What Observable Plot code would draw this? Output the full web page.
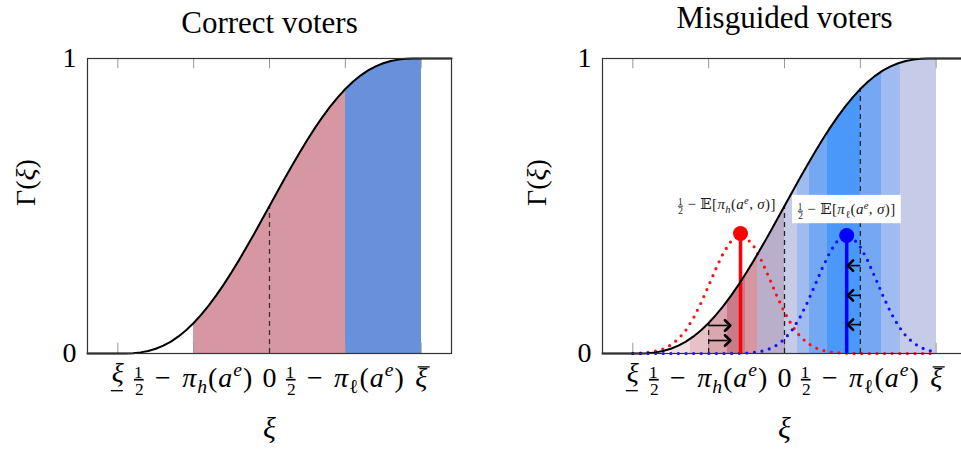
<!DOCTYPE html>
<html><head><meta charset="utf-8">
<script src="https://cdn.jsdelivr.net/npm/d3@7"></script>
<script src="https://cdn.jsdelivr.net/npm/@observablehq/plot@0.6"></script>
<style>
html,body{margin:0;padding:0;background:#fff;overflow:hidden;}
#wrap{position:relative;width:961px;height:453px;overflow:hidden;}
#wrap svg{position:absolute;top:0;}
</style></head><body><div id="wrap"></div>
<script>
// ---- data ----
const xiGrid = [-2.0,-1.9,-1.8,-1.7,-1.6,-1.5,-1.4,-1.3,-1.2,-1.1,-1.0,-0.9,-0.8,-0.7,-0.6,-0.5,-0.4,-0.3,-0.2,-0.1,0,
  0.1,0.2,0.3,0.4,0.5,0.6,0.7,0.8,0.9,1.0,1.1,1.2,1.3,1.4,1.5,1.6,1.7,1.8,1.9,2.0];
const gammaValues = [0,0.0002,0.0012,0.0038,0.0086,0.0161,0.0266,0.0405,0.0579,0.0789,0.1035,0.1316,0.1631,0.1977,0.2352,0.2752,0.3174,0.3615,0.4069,0.4532,0.5,
  0.5468,0.5931,0.6385,0.6826,0.7248,0.7648,0.8023,0.8369,0.8684,0.8965,0.9211,0.9421,0.9595,0.9734,0.9839,0.9914,0.9962,0.9988,0.9998,1];
const redDensity = [0.0007,0.0017,0.0038,0.0079,0.0155,0.0284,0.0489,0.0792,0.1204,0.1718,0.2305,0.2904,0.344,0.3824,0.3995,0.392,0.3614,0.313,0.2548,0.1947,0.1398,
  0.0943,0.0598,0.0356,0.0199,0.0105,0.0052,0.0024,0.001,0.0004,0.0001,0,0,0,0,0,0,0,0,0,0];
const blueDensity = [0,0,0,0,0,0,0,0,0,0,0,0,0,0.0002,0.0007,0.0017,0.0038,0.0079,0.0155,0.0284,0.0489,
  0.0792,0.1204,0.1718,0.2305,0.2904,0.344,0.3824,0.3995,0.392,0.3614,0.313,0.2548,0.1947,0.1398,0.0943,0.0598,0.0356,0.0199,0.0105,0.0052];
const xiDomain = [-2.4, 2.4];

const tickXi = [-2, -1, 0, 1, 2];
const tickLabels = ["\\ul{ξ}", "\\frac12\u2004−\u2004π_{h}(a^{e})", "0", "\\frac12\u2004−\u2004π_{ℓ}(a^{e})", "\\ol{ξ}"];
const yTickValues = [0, 1];
const yTickLabels = ["0", "1"];

const correctBandStart = [-1, 1];
const correctBandEnd = [1, 2];
const correctBandColor = ["#d697a3", "#6990da"];

const misBandStart = [-1.5, -1.24, -1.0, -0.75, -0.51, -0.355, 0, 0.17, 0.33, 0.565, 1.0, 1.275, 1.525];
const misBandEnd   = [-1.24, -1.0, -0.75, -0.51, -0.355, 0, 0.17, 0.33, 0.565, 1.0, 1.275, 1.525, 2.0];
const misBandColor = ["#f3dfe2","#e6c1c7","#daa6af","#c97b89","#d896a1","#b9afcb","#c6cbe7","#a0bbef","#75a8f2","#4a98f9","#75a8f2","#a0bbef","#c6cbe7"];

const redMean = -0.58, redPeak = 0.407;
const blueMean = 0.82, bluePeak = 0.40;
const rightArrowY = [0.095, 0.044];
const leftArrowY = [0.298, 0.197, 0.098];
const correctDashXi = [0];
const misDashXi = [-1, 0, 1];
const labelRed = "\\frac12 − 𝔼[π_{h}(a^{e}, σ)]";
const labelBlue = "\\frac12 − 𝔼[π_{ℓ}(a^{e}, σ)]";

// ---- derived tables ----
const curveRows = [{xi: xiDomain[0], g: 0}, ...xiGrid.map((xi, i) => ({xi, g: gammaValues[i]})), {xi: xiDomain[1], g: 1}];
const gammaAt = x => gammaValues[xiGrid.findIndex(v => Math.abs(v - x) < 1e-9)];
const redRows = xiGrid.map((xi, i) => ({xi, v: redDensity[i]}));
const blueRows = xiGrid.map((xi, i) => ({xi, v: blueDensity[i]}));
const correctBands = correctBandStart.map((s, i) => ({x1: s, x2: correctBandEnd[i], c: correctBandColor[i]}));
const misBands = misBandStart.map((s, i) => ({x1: s, x2: misBandEnd[i], c: misBandColor[i]}));

// ---- tiny math-text renderer ----
const ITALIC = /[A-Za-zα-ω]/;
function parseMarkup(src) {
  const segs = [];
  const add = (str, o = {}) => {
    for (const ch of Array.from(str)) {
      const it = ITALIC.test(ch);
      const key = {off: o.off || 0, scale: o.scale || 1, deco: o.deco || null, italic: it};
      const last = segs[segs.length - 1];
      if (last && !last.frac && last.off === key.off && last.scale === key.scale && last.deco === key.deco && last.italic === it) last.text += ch;
      else segs.push({...key, text: ch});
    }
  };
  const group = j => { let d = 0, k = j; for (; k < src.length; k++) { if (src[k] === "{") d++; else if (src[k] === "}" && --d === 0) break; } return [src.slice(j + 1, k), k + 1]; };
  let i = 0;
  while (i < src.length) {
    if (src.startsWith("\\frac12", i)) { segs.push({frac: true}); i += 7; continue; }
    if (src.startsWith("\\ul{", i) || src.startsWith("\\ol{", i)) {
      const deco = src[i + 1] === "u" ? "under" : "over";
      const [c, n] = group(i + 3); add(c, {deco, off: deco === "under" ? -0.15 : 0}); i = n; continue;
    }
    if (src[i] === "_" || src[i] === "^") {
      const sup = src[i] === "^";
      let c, n;
      if (src[i + 1] === "{") [c, n] = group(i + 1); else { c = src[i + 1]; n = i + 2; }
      add(c, {off: sup ? -0.36 : 0.22, scale: 0.7}); i = n; continue;
    }
    const ch = String.fromCodePoint(src.codePointAt(i));
    add(ch); i += ch.length;
  }
  return segs;
}
function mathify(svg) {
  const NS = "http://www.w3.org/2000/svg";
  svg.querySelectorAll("text").forEach(t => {
    const src = t.textContent;
    if (!/[\\_^ξπσℓΓ𝔼]/u.test(src)) return;
    const fs = parseFloat(getComputedStyle(t).fontSize);
    if (src.includes("\\frac12")) t.style.letterSpacing = fs > 20 ? "1px" : "0.35px";
    while (t.firstChild) t.removeChild(t.firstChild);
    let cur = 0;
    const decos = [];
    const span = (text, size, dy, style = {}) => {
      const s = document.createElementNS(NS, "tspan");
      s.textContent = text;
      s.setAttribute("font-size", size);
      if (dy) s.setAttribute("dy", dy);
      for (const [k, v] of Object.entries(style)) s.style[k] = v;
      t.appendChild(s); return s;
    };
    for (const seg of parseMarkup(src)) {
      if (seg.frac) {
        span("1", 0.62 * fs, -0.31 * fs - cur, {textDecoration: "underline", fontStyle: "normal"});
        cur = -0.31 * fs;
        const b = span("2", 0.62 * fs, 0.3 * fs - cur, {fontStyle: "normal"});
        b.setAttribute("dx", -0.31 * fs);
        cur = 0.3 * fs;
      } else {
        const target = seg.off * fs;
        const s = span(seg.text, seg.scale * fs, target - cur, {fontStyle: seg.italic ? "italic" : "normal"});
        if (seg.deco) decos.push({s, deco: seg.deco});
        cur = target;
      }
    }
    // draw under/over bars as lines that follow the label
    for (const {s, deco} of decos) {
      const p = s.getStartPositionOfChar(0);
      const w = s.getComputedTextLength();
      const line = document.createElementNS(NS, "line");
      const shift = deco === "under" ? -1 : 2.5;
      const y = deco === "under" ? p.y + 0.3 * fs : p.y - 0.7 * fs;
      line.setAttribute("x1", p.x + shift);
      line.setAttribute("x2", p.x + w + shift);
      line.setAttribute("y1", y);
      line.setAttribute("y2", y);
      line.setAttribute("stroke", "black");
      line.setAttribute("stroke-width", 1.3);
      if (t.getAttribute("transform")) line.setAttribute("transform", t.getAttribute("transform"));
      t.parentNode.appendChild(line);
    }
  });
}

// ---- panels ----
function tickMarks() {
  return [
    Plot.ruleX(tickXi, {x: d => d, y1: 1, y2: 0.965, stroke: "#999", strokeWidth: 1}),
    Plot.ruleX(tickXi, {x: d => d, y1: 0, y2: 0.035, stroke: "#999", strokeWidth: 1}),
  ];
}
function axisTexts(title, titleDy, ylabDx) {
  return [
    Plot.frame({stroke: "#333", strokeWidth: 1.2}),
    Plot.text([title], {frameAnchor: "top", lineAnchor: "bottom", dy: titleDy, fontSize: 31, fill: "black"}),
    Plot.text(tickXi, {x: d => d, y: 0, text: (d, i) => tickLabels[i], dy: 33, lineAnchor: "bottom", fontSize: 28, fill: "black"}),
    Plot.text(["ξ"], {frameAnchor: "bottom", lineAnchor: "bottom", dy: 84, fontSize: 30, fill: "black"}),
    Plot.text(yTickValues, {x: xiDomain[0], y: d => d, text: (d, i) => yTickLabels[i], textAnchor: "end", dx: -11, fontSize: 28, fill: "black"}),
    Plot.text(["Γ(ξ)"], {frameAnchor: "left", dx: ylabDx, rotate: -90, fontSize: 28, fill: "black"})
  ];
}
function makePlot(width, marginLeft, marginRight, marks) {
  return Plot.plot({
    width, height: 453, marginLeft, marginRight, marginTop: 58, marginBottom: 100,
    x: {domain: xiDomain, axis: null}, y: {domain: [0, 1], axis: null},
    color: {type: "identity"},
    style: {fontFamily: "'Liberation Serif', 'DejaVu Serif', serif", background: "white", overflow: "visible"},
    marks
  });
}

const left = makePlot(480, 87, 29, [
  Plot.rectY(correctBands, {x1: "x1", x2: "x2", y1: 0, y2: 1, fill: "c", shapeRendering: "crispEdges"}),
  Plot.areaY(curveRows, {x: "xi", y1: "g", y2: 1, fill: "white"}),
  ...tickMarks(),
  Plot.ruleX(correctDashXi, {x: d => d, y1: 0, y2: d => gammaAt(d), stroke: "#333", strokeWidth: 1.3, strokeDasharray: "5,4"}),
  Plot.line(curveRows, {x: "xi", y: "g", stroke: "black", strokeWidth: 2}),
  ...axisTexts("Correct voters", -26, -61)
]);

const right = makePlot(486, 122, 0, [
  Plot.rectY(misBands, {x1: "x1", x2: "x2", y1: 0, y2: 1, fill: "c", shapeRendering: "crispEdges"}),
  Plot.areaY(curveRows, {x: "xi", y1: "g", y2: 1, fill: "white"}),
  ...tickMarks(),
  Plot.ruleX(misDashXi, {x: d => d, y1: 0, y2: d => gammaAt(d), stroke: "#222", strokeWidth: 1.3, strokeDasharray: "5,4"}),
  Plot.line(redRows, {x: "xi", y: "v", stroke: "#ff1010", strokeWidth: 3.2, strokeDasharray: "0,7.6", strokeLinecap: "round"}),
  Plot.line(blueRows, {x: "xi", y: "v", stroke: "#1010ff", strokeWidth: 3.2, strokeDasharray: "0,7.6", strokeLinecap: "round"}),
  Plot.ruleX([redMean], {x: d => d, y1: 0, y2: redPeak, stroke: "#ff0000", strokeWidth: 3.5}),
  Plot.ruleX([blueMean], {x: d => d, y1: 0, y2: bluePeak, stroke: "#0000ff", strokeWidth: 3.5}),
  Plot.dot([redPeak], {x: redMean, y: d => d, r: 7.5, fill: "#ff0000"}),
  Plot.dot([bluePeak], {x: blueMean, y: d => d, r: 7.5, fill: "#0000ff"}),
  Plot.line(curveRows, {x: "xi", y: "g", stroke: "black", strokeWidth: 2}),
  Plot.link(rightArrowY, {x1: -1, x2: redMean - 0.17, y1: d => d, y2: d => d, stroke: "black", strokeWidth: 1.6, markerEnd: "arrow"}),
  Plot.link(leftArrowY, {x1: 1, x2: blueMean + 0.05, y1: d => d, y2: d => d, stroke: "black", strokeWidth: 1.6, markerEnd: "arrow"}),
  Plot.rect([blueMean], {x1: d => d - 0.715, x2: d => d + 0.72, y1: 0.44, y2: 0.536, fill: "white"}),
  Plot.text([labelRed], {x: redMean - 0.18, y: 0.505, fontSize: 15, fill: "#222"}),
  Plot.text([labelBlue], {x: blueMean, y: 0.488, fontSize: 15, fill: "#222"}),
  ...axisTexts("Misguided voters", -31, -65)
]);

const wrap = document.getElementById("wrap");
left.style.left = "0px";
right.style.left = "480px";
wrap.appendChild(left);
wrap.appendChild(right);
mathify(left);
mathify(right);
// enlarge the open arrow heads to the reference's size
right.querySelectorAll("marker").forEach(m => { m.setAttribute("markerWidth", 11); m.setAttribute("markerHeight", 11); });
</script>
</body></html>
